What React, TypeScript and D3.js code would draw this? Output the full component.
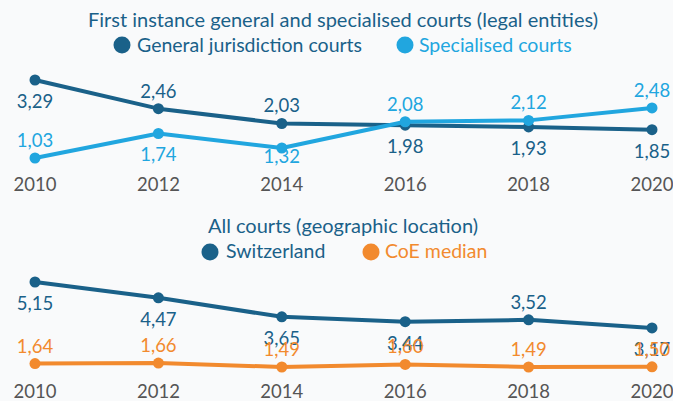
import React from "react";
import * as d3 from "d3";

const years = ["2010", "2012", "2014", "2016", "2018", "2020"];
const generalCourts = [3.29, 2.46, 2.03, 1.98, 1.93, 1.85];
const specialisedCourts = [1.03, 1.74, 1.32, 2.08, 2.12, 2.48];
const switzerland = [5.15, 4.47, 3.65, 3.44, 3.52, 3.17];
const coeMedian = [1.64, 1.66, 1.49, 1.6, 1.49, 1.5];

// label placement: "a" = above point, "b" = below, "n" = just below (squeezed)
const generalPos = ["b", "a", "a", "b", "b", "b"];
const specialisedPos = ["a", "b", "n", "a", "a", "a"];
const switzerlandPos = ["b", "b", "b", "b", "a", "b"];
const coePos = ["a", "a", "a", "a", "a", "a"];

const DARK = "#1a6189";
const LIGHT = "#21a6df";
const ORANGE = "#f28a2e";
const FONT = "Lato, 'Open Sans', sans-serif";
const TITLE_SIZE = 20;
const LEGEND_SIZE = 19.5;
const NUM_SIZE = 18.5;

const W = 673;
const H = 401;

const x = d3.scalePoint<string>().domain(years).range([35, 652]);

const fmt = (v: number) => v.toFixed(2).replace(".", ",");

type Series = { values: number[]; color: string; pos: string[] };

const offset: Record<string, number> = { a: -11, b: 28, n: 15 };

function Panel({
  series,
  y,
  yearBaseline,
}: {
  series: Series[];
  y: d3.ScaleLinear<number, number>;
  yearBaseline: number;
}) {
  const line = d3
    .line<number>()
    .x((_, i) => x(years[i]) as number)
    .y((d) => y(d));
  return (
    <g>
      {series.map((s, si) => (
        <g key={"l" + si}>
          {s.values.map((v, i) => (
            <text
              key={i}
              x={x(years[i])}
              y={y(v) + offset[s.pos[i]]}
              textAnchor="middle"
              fill={s.color}
              fontSize={NUM_SIZE}
              fontFamily={FONT}
            >
              {fmt(v)}
            </text>
          ))}
        </g>
      ))}
      {series.map((s, si) => (
        <g key={si}>
          <path d={line(s.values) || ""} fill="none" stroke={s.color} strokeWidth={4} strokeLinejoin="round" />
          {s.values.map((v, i) => (
            <circle key={i} cx={x(years[i])} cy={y(v)} r={5.5} fill={s.color} />
          ))}
        </g>
      ))}
      {years.map((yr) => (
        <text
          key={yr}
          x={x(yr)}
          y={yearBaseline}
          textAnchor="middle"
          fill="#555"
          fontSize={NUM_SIZE}
          fontFamily={FONT}
        >
          {yr}
        </text>
      ))}
    </g>
  );
}

export default function App() {
  const yTop = d3.scaleLinear().domain([1.03, 3.29]).range([158, 80]);
  const yBot = d3.scaleLinear().domain([1.49, 5.15]).range([367, 282]);

  return (
    <svg width={W} height={H} style={{ position: "absolute", left: 0, top: 0, background: "#f9fafb" }}>
      <rect width={W} height={H} fill="#f9fafb" />
      <text x={343} y={27} textAnchor="middle" fill={DARK} fontSize={TITLE_SIZE} fontFamily={FONT}>
        First instance general and specialised courts (legal entities)
      </text>
      <circle cx={122} cy={45} r={8.5} fill={DARK} />
      <text x={137} y={52} fill={DARK} fontSize={LEGEND_SIZE} fontFamily={FONT}>
        General jurisdiction courts
      </text>
      <circle cx={405} cy={45} r={8.5} fill={LIGHT} />
      <text x={419} y={52} fill={LIGHT} fontSize={LEGEND_SIZE} fontFamily={FONT}>
        Specialised courts
      </text>
      <Panel
        series={[
          { values: generalCourts, color: DARK, pos: generalPos },
          { values: specialisedCourts, color: LIGHT, pos: specialisedPos },
        ]}
        y={yTop}
        yearBaseline={191}
      />

      <text x={343} y={233} textAnchor="middle" fill={DARK} fontSize={TITLE_SIZE} fontFamily={FONT}>
        All courts (geographic location)
      </text>
      <circle cx={210} cy={252} r={8.5} fill={DARK} />
      <text x={226} y={258} fill={DARK} fontSize={LEGEND_SIZE} fontFamily={FONT}>
        Switzerland
      </text>
      <circle cx={371} cy={252} r={8.5} fill={ORANGE} />
      <text x={385} y={258} fill={ORANGE} fontSize={LEGEND_SIZE} fontFamily={FONT}>
        CoE median
      </text>
      <Panel
        series={[
          { values: switzerland, color: DARK, pos: switzerlandPos },
          { values: coeMedian, color: ORANGE, pos: coePos },
        ]}
        y={yBot}
        yearBaseline={398}
      />
    </svg>
  );
}
